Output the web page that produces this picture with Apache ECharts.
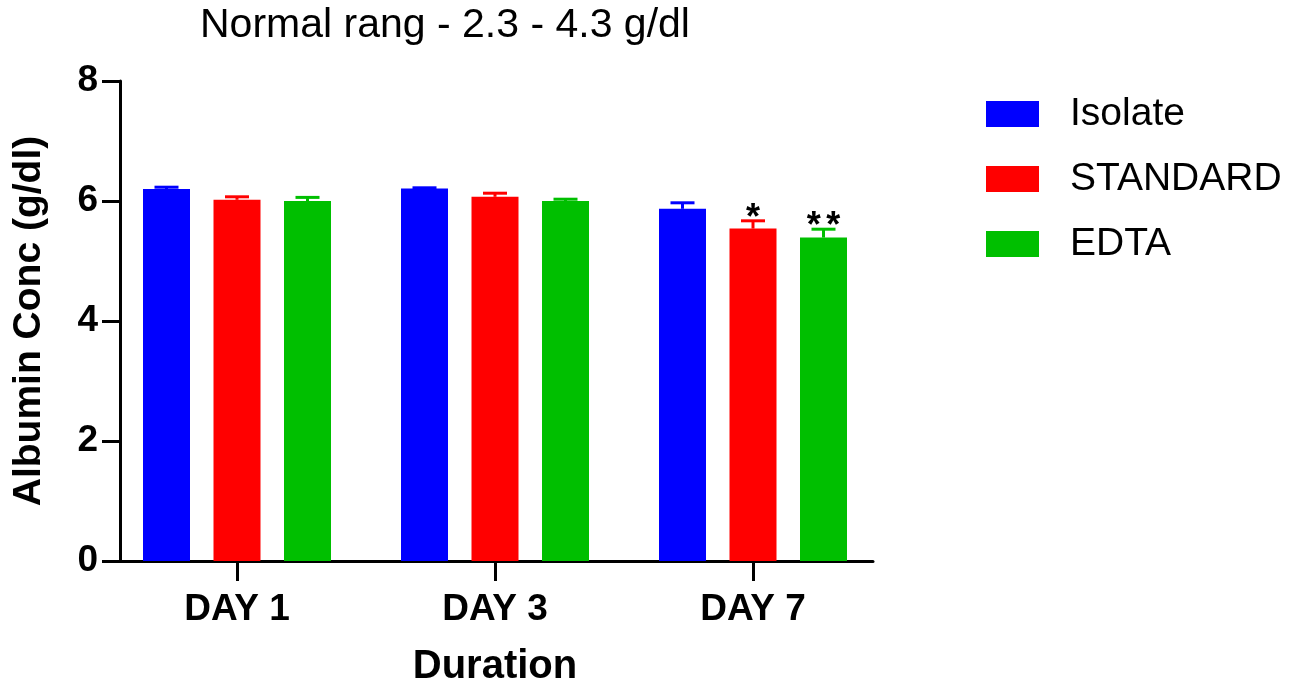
<!DOCTYPE html>
<html>
<head>
<meta charset="utf-8">
<script src="https://cdn.jsdelivr.net/npm/echarts@6/dist/echarts.min.js"></script>
<style>
  html, body { margin: 0; padding: 0; background: #fff; }
  #chart { width: 1292px; height: 684px; }
</style>
</head>
<body>
<div id="chart"></div>
<script>
const days = ['DAY 1', 'DAY 3', 'DAY 7']
const groups = ['Isolate', 'STANDARD', 'EDTA']
const isolate = [6.2, 6.21, 5.87]
const isolateErr = [0.03, 0.01, 0.1]
const standard = [6.02, 6.07, 5.54]
const standardErr = [0.05, 0.06, 0.13]
const edta = [6.0, 6.0, 5.39]
const edtaErr = [0.06, 0.03, 0.14]
const standardSig = ['', '', '*']
const edtaSig = ['', '', '**']
const yTicks = [0, 2, 4, 6, 8]

const font = 'Liberation Sans, Arial, sans-serif'
const colors = ['#0000ff', '#ff0000', '#00bf00']
const barWidth = 47
const barStep = 70.5 // bar width + gap, px
const starStep = 19.5 // spacing between stars of one mark, px

// error bar (upward only) plus significance stars, drawn over each bar
const errorSeries = (name, values, errs, sigs, idx) => ({
  name: name,
  type: 'custom',
  xAxisIndex: 0,
  yAxisIndex: 0,
  z: 5,
  silent: true,
  data: values.map((v, i) => [i, v, errs[i]]),
  renderItem: (params, api) => {
    const base = api.coord([api.value(0), api.value(1)])
    const top = api.coord([api.value(0), api.value(1) + api.value(2)])
    const x = base[0] + (idx - 1) * barStep
    const style = { stroke: colors[idx], lineWidth: 3 }
    const children = [
      { type: 'line', shape: { x1: x, y1: base[1], x2: x, y2: top[1] }, style: style },
      { type: 'line', shape: { x1: x - 12, y1: top[1], x2: x + 12, y2: top[1] }, style: style },
    ]
    const sig = sigs ? sigs[params.dataIndex] : ''
    // each star is placed on its own so that they keep GraphPad's spacing
    sig.split('').forEach((ch, k) => {
      children.push({
        type: 'text',
        style: {
          text: ch,
          x: x + (k - (sig.length - 1) / 2) * starStep,
          y: top[1] - 2,
          align: 'center',
          verticalAlign: 'middle',
          font: 'bold 36px ' + font,
          fill: '#000',
        },
      })
    })
    return { type: 'group', children: children }
  },
})

const barSeries = (name, values, idx) => ({
  name: name,
  type: 'bar',
  xAxisIndex: 0,
  yAxisIndex: 0,
  barWidth: barWidth,
  barGap: '50%',
  itemStyle: { color: colors[idx] },
  data: values,
})

const chart = echarts.init(document.getElementById('chart'))
chart.setOption({
  animation: false,
  backgroundColor: '#fff',
  title: {
    text: 'Normal rang - 2.3 - 4.3 g/dl',
    left: 200,
    top: 5,
    padding: 0,
    textStyle: { fontFamily: font, fontSize: 41, fontWeight: 'normal', color: '#000' },
  },
  legend: {
    orient: 'vertical',
    left: 986,
    top: 94,
    padding: 0,
    itemWidth: 53,
    itemHeight: 26,
    itemGap: 25,
    icon: 'rect',
    data: groups,
    textStyle: {
      fontFamily: font,
      fontSize: 39,
      lineHeight: 40,
      color: '#000',
      padding: [0, 0, 0, 26],
    },
  },
  grid: [
    { left: 108, top: 81, width: 774, height: 480, outerBoundsMode: 'none', containLabel: false },
    { left: 120, top: 81, width: 753, height: 480, outerBoundsMode: 'none', containLabel: false },
  ],
  xAxis: [
    {
      type: 'category',
      gridIndex: 0,
      data: days,
      axisLine: { show: false },
      axisTick: { show: true, alignWithLabel: true, length: 20, lineStyle: { color: '#000', width: 3 } },
      axisLabel: { fontFamily: font, fontSize: 37, fontWeight: 'bold', color: '#000', margin: 30 },
      name: 'Duration',
      nameLocation: 'middle',
      nameGap: 86,
      nameTextStyle: { fontFamily: font, fontSize: 40, fontWeight: 'bold', color: '#000' },
    },
    {
      type: 'value',
      gridIndex: 1,
      min: 0,
      max: 1,
      axisLine: { show: true, lineStyle: { color: '#000', width: 3 } },
      axisTick: { show: false },
      axisLabel: { show: false },
      splitLine: { show: false },
    },
  ],
  yAxis: [
    { type: 'value', gridIndex: 0, min: 0, max: 8, show: false },
    {
      type: 'value',
      gridIndex: 1,
      min: yTicks[0],
      max: yTicks[yTicks.length - 1],
      interval: 2,
      axisLine: { show: true, lineStyle: { color: '#000', width: 3 } },
      axisTick: { show: true, length: 18, lineStyle: { color: '#000', width: 3 } },
      axisLabel: { fontFamily: font, fontSize: 37, fontWeight: 'bold', color: '#000', margin: 22 },
      splitLine: { show: false },
      name: 'Albumin Conc (g/dl)',
      nameLocation: 'middle',
      nameRotate: 90,
      nameGap: 71,
      nameTextStyle: { fontFamily: font, fontSize: 39, fontWeight: 'bold', color: '#000' },
    },
  ],
  series: [
    barSeries(groups[0], isolate, 0),
    barSeries(groups[1], standard, 1),
    barSeries(groups[2], edta, 2),
    errorSeries(groups[0], isolate, isolateErr, null, 0),
    errorSeries(groups[1], standard, standardErr, standardSig, 1),
    errorSeries(groups[2], edta, edtaErr, edtaSig, 2),
  ],
})
</script>
</body>
</html>
